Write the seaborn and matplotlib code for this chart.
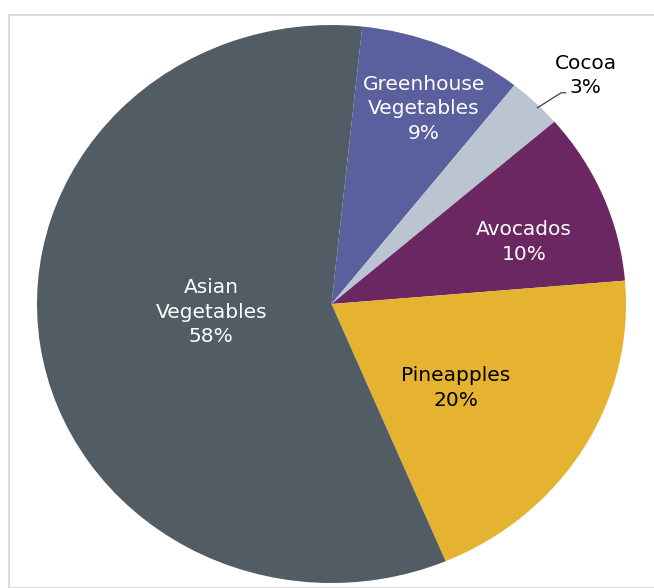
import numpy as np
import matplotlib
matplotlib.use("Agg")
import matplotlib.pyplot as plt
from matplotlib.patches import Rectangle
import seaborn as sns

# Share of imports by product, listed clockwise from the top
categories = ["Greenhouse\nVegetables", "Cocoa", "Avocados", "Pineapples", "Asian\nVegetables"]
shares = [9, 3, 10, 20, 58]
slice_colors = ["#5A5F9E", "#BBC5D2", "#6B2762", "#E5B32F", "#525C64"]
label_colors = ["white", "black", "white", "black", "white"]
# label placement: distance from the centre (fraction of radius) and a
# clockwise nudge in degrees away from the slice mid-line
label_radius = [0.766, 1.19, 0.69, 0.518, 0.409]
label_nudge = [1.9, 2.7, 4.0, 4.3, 4.3]

sns.set_theme(style="white")
plt.rcParams["font.family"] = ["DejaVu Sans"]

W, H = 654, 588
fig = plt.figure(figsize=(W / 100, H / 100), dpi=100)
fig.patch.set_facecolor("white")

# light frame around the chart area
fig.patches.append(Rectangle((8.5 / W, 0), 1.2, (H - 14.5) / H, transform=fig.transFigure,
                             fill=False, edgecolor="#D6D6D6", linewidth=1.2))

ax = fig.add_axes([37 / W, 5 / H, 589 / W, 558 / H])
palette = sns.color_palette(slice_colors)
start = 84
wedges, _ = ax.pie(shares, colors=palette, startangle=start, counterclock=False,
                   radius=1.0, wedgeprops=dict(linewidth=0))
ax.set_aspect("auto")
ax.set_xlim(-1, 1)
ax.set_ylim(-1, 1)
ax.axis("off")

fs, ls = 14.5, 1.36
for w, name, val, col, r, nudge in zip(wedges, categories, shares, label_colors,
                                       label_radius, label_nudge):
    mid = (w.theta1 + w.theta2) / 2
    ang = np.deg2rad(mid - nudge)
    text = f"{name}\n{val}%"
    x, y = r * np.cos(ang), r * np.sin(ang)
    ax.text(x, y, text, ha="center", va="center", color=col,
            fontsize=fs, linespacing=ls)
    if r > 1:
        # leader line from inside the slice rim to just beside the label
        m = np.deg2rad(mid - 1.0)
        ex, ey = 0.99 * np.cos(m), 0.99 * np.sin(m)
        ax.plot([ex, x - 0.083, x - 0.066], [ey, y - 0.062, y - 0.062],
                color="#404040", lw=0.9, solid_capstyle="butt")

fig.savefig("out.png", dpi=100, facecolor="white")
